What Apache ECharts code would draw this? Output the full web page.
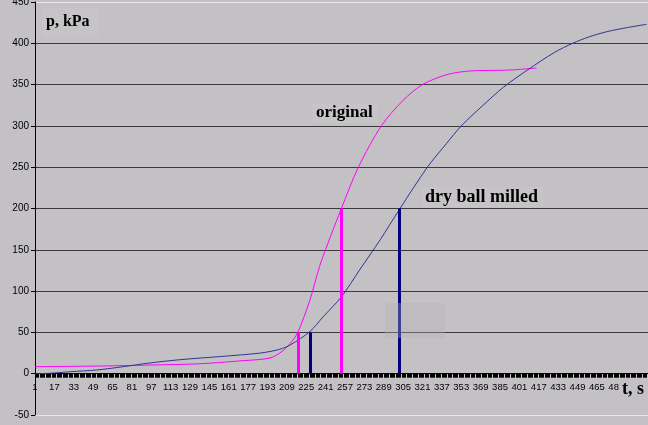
<!DOCTYPE html>
<html>
<head>
<meta charset="utf-8">
<script src="https://cdn.jsdelivr.net/npm/echarts@6/dist/echarts.min.js"></script>
<style>
html,body{margin:0;padding:0;background:#c3c1c4;}
#c{width:648px;height:425px;}
</style>
</head>
<body>
<div id="c"></div>
<script>
// time index (s) and pressure (kPa)
const origT = [1, 55, 96, 137, 170, 195, 205, 212, 218, 228, 236, 245, 254, 268, 287, 305, 321, 341, 360, 391, 415];
const origP = [8.5, 9.3, 10.5, 12, 15.5, 19, 27, 37, 50, 89, 130, 166, 200, 250, 300, 331, 350, 362, 366.5, 367.5, 370];
const millT = [1, 13, 30, 52, 74, 96, 121, 156, 187, 203, 212, 228, 239, 254, 269, 286, 302, 325, 341, 353, 371, 388, 407, 430, 445, 458, 473, 490, 506];
const millP = [0, 0.5, 2.4, 4.5, 8.5, 13, 17, 21, 25, 29.5, 35, 51, 69, 93, 125.5, 162, 199, 250, 279, 300, 325, 347, 367, 389, 400, 407.5, 414, 419, 423];
// vertical marker bars
const barT = [218, 228, 254, 302];
const barP = [50, 50, 200, 200];
const barColor = ['#ff00ff', '#000080', '#ff00ff', '#000080'];
// x tick labels
const xLabels = [1, 17, 33, 49, 65, 81, 97, 113, 129, 145, 161, 177, 193, 209, 225, 241, 257, 273, 289, 305, 321, 337, 353, 369, 385, 401, 417, 433, 449, 465, 481, 497, 513];
const xMax = 520;
const yMin = -50, yMax = 450;

const xTicks = [];
for (let t = 1; t <= xMax; t++) xTicks.push(t);

const pair = (ts, ps) => ts.map((t, i) => [t, ps[i]]);

const gridH = 413;
const chart = echarts.init(document.getElementById('c'), null, {renderer: 'canvas'});
const gridCol = '#3a3a3a';
chart.setOption({
  backgroundColor: '#c3c1c4',
  animation: false,
  grid: {left: 35, top: 2, width: 628.5, height: gridH, containLabel: false, outerBoundsMode: 'none'},
  xAxis: {
    type: 'value', min: 1, max: xMax,
    offset: -gridH * (0 - yMin) / (yMax - yMin),
    axisLine: {onZero: false, lineStyle: {color: '#000', width: 1}},
    axisTick: {show: true, customValues: xTicks, length: 4, lineStyle: {color: '#000', width: 1}},
    axisLabel: {customValues: xLabels, fontSize: 9.5, color: '#000', fontFamily: 'Liberation Sans, Arial', margin: 9},
    splitLine: {show: false}
  },
  yAxis: {
    type: 'value', min: yMin, max: yMax, interval: 50,
    axisLine: {show: true, onZero: false, lineStyle: {color: '#000', width: 1}},
    axisTick: {show: true, length: 4, lineStyle: {color: '#000'}},
    axisLabel: {fontSize: 10, color: '#000', fontFamily: 'Liberation Sans, Arial', margin: 6, showMaxLabel: true},
    splitLine: {show: true, lineStyle: {width: 1, color: ['#e6e6e6', gridCol, gridCol, gridCol, gridCol, gridCol, gridCol, gridCol, gridCol, gridCol, '#e6e6e6']}}
  },
  series: [
    {
      type: 'line', name: 'original', data: pair(origT, origP), showSymbol: false,
      smooth: 0.3,
      lineStyle: {color: '#ff00ff', width: 1}, z: 3
    },
    {
      type: 'line', name: 'dry ball milled', data: pair(millT, millP), showSymbol: false,
      smooth: 0.3,
      lineStyle: {color: '#333399', width: 1}, z: 3,
      markLine: {
        silent: true, symbol: 'none', animation: false,
        label: {show: false},
        data: barT.map((t, i) => [
          {coord: [t, 0], lineStyle: {color: barColor[i], width: 3, type: 'solid'}},
          {coord: [t, barP[i]]}
        ])
      }
    }
  ],
  graphic: [
    {type: 'rect', shape: {x: 385, y: 303, width: 60, height: 35}, style: {fill: 'rgba(180,180,182,0.35)'}, z: 10},
    {type: 'rect', shape: {x: 42, y: 8, width: 57, height: 29}, style: {fill: '#c6c4c7'}, z: 10},
    {type: 'text', x: 46, y: 22, style: {text: 'p, kPa', font: 'bold 16px "Liberation Serif", "Times New Roman", serif', fill: '#000', textVerticalAlign: 'middle'}, z: 11},
    {type: 'rect', shape: {x: 312, y: 103, width: 66, height: 20}, style: {fill: '#c6c4c7'}, z: 10},
    {type: 'text', x: 316, y: 113, style: {text: 'original', font: 'bold 17px "Liberation Serif", "Times New Roman", serif', fill: '#000', textVerticalAlign: 'middle'}, z: 11},
    {type: 'rect', shape: {x: 422, y: 187, width: 122, height: 20}, style: {fill: '#c6c4c7'}, z: 10},
    {type: 'text', x: 425, y: 197, style: {text: 'dry ball milled', font: 'bold 18px "Liberation Serif", "Times New Roman", serif', fill: '#000', textVerticalAlign: 'middle'}, z: 11},
    {type: 'rect', shape: {x: 619, y: 379, width: 40, height: 20}, style: {fill: '#c3c1c4'}, z: 10},
    {type: 'text', x: 622, y: 389, style: {text: 't, s', font: 'bold 18px "Liberation Serif", "Times New Roman", serif', fill: '#000', textVerticalAlign: 'middle'}, z: 11}
  ]
});
</script>
</body>
</html>
